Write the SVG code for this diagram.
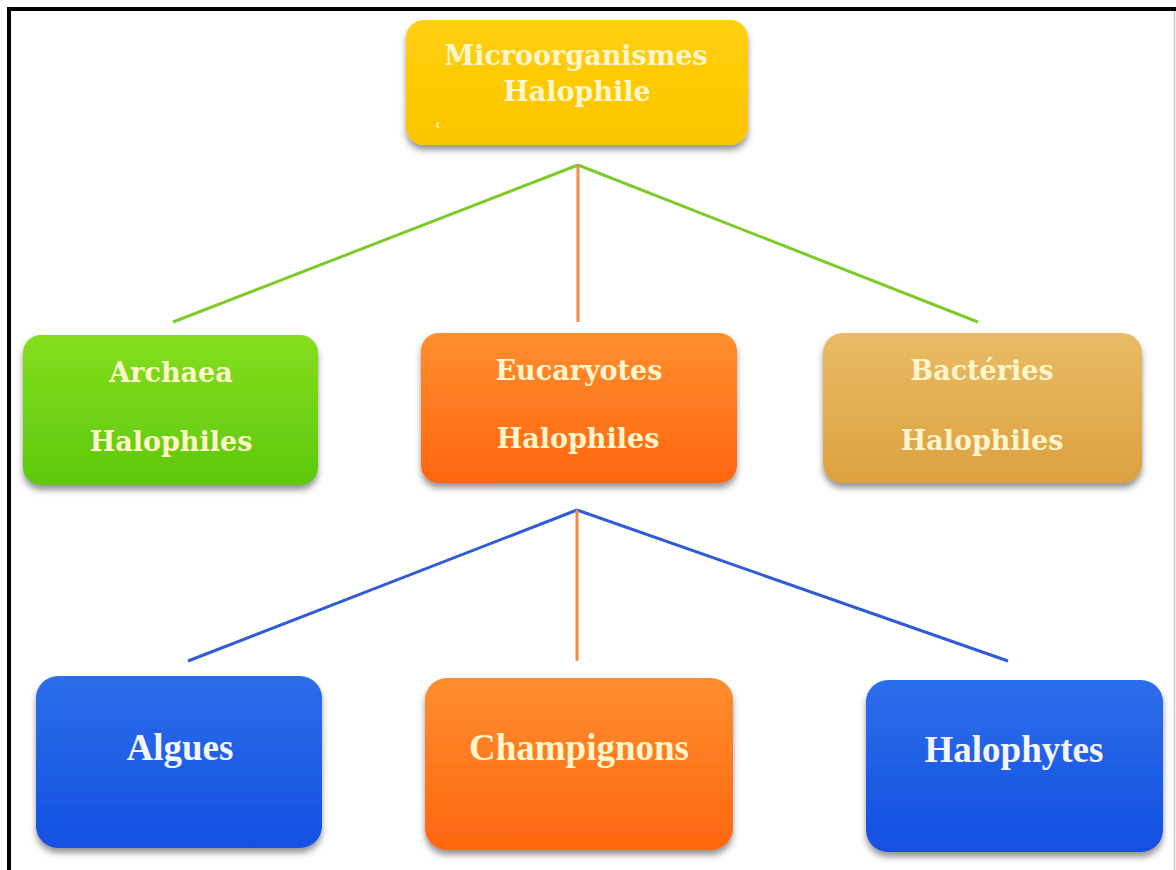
<svg xmlns="http://www.w3.org/2000/svg" width="1176" height="870" viewBox="0 0 1176 870">
<style>
.serif{font-family:"DejaVu Serif","Liberation Serif",serif;font-weight:bold;font-size:27px;fill:#FFF6CC;text-anchor:middle}
.times{font-family:"Liberation Serif","Times New Roman",serif;font-weight:bold;font-size:37px;text-anchor:middle}
.cream{fill:#FFF6CC}
.white{fill:#F4F6FF}
.node{filter:url(#sh)}
</style>
<defs>
<filter id="sh" x="-10%" y="-10%" width="120%" height="130%">
<feDropShadow dx="0" dy="5" stdDeviation="3" flood-color="#404040" flood-opacity="0.55"/>
</filter>
<linearGradient id="gy" x1="0" y1="0" x2="0" y2="1"><stop offset="0" stop-color="#FFCF0A"/><stop offset="1" stop-color="#FCC500"/></linearGradient>
<linearGradient id="gg" x1="0" y1="0" x2="0" y2="1"><stop offset="0" stop-color="#84DE1E"/><stop offset="1" stop-color="#5EC80C"/></linearGradient>
<linearGradient id="go" x1="0" y1="0" x2="0" y2="1"><stop offset="0" stop-color="#FF8E30"/><stop offset="1" stop-color="#FF660F"/></linearGradient>
<linearGradient id="gt" x1="0" y1="0" x2="0" y2="1"><stop offset="0" stop-color="#E9BB66"/><stop offset="1" stop-color="#DCA140"/></linearGradient>
<linearGradient id="gb" x1="0" y1="0" x2="0" y2="1"><stop offset="0" stop-color="#2C6EEA"/><stop offset="1" stop-color="#1350E2"/></linearGradient>
</defs>
<rect width="1176" height="870" fill="#FFFFFF"/>
<g id="frame">
<line x1="7" y1="9" x2="1176" y2="9" stroke="#000" stroke-width="4"/>
<line x1="9" y1="7" x2="9" y2="870" stroke="#000" stroke-width="4"/>
<line x1="1174.5" y1="11" x2="1174.5" y2="870" stroke="#C8C8C8" stroke-width="1.5"/>
</g>
<g id="connectors" stroke-width="3" fill="none">
<line x1="578" y1="165" x2="173" y2="322" stroke="#7DCB2A"/>
<line x1="578" y1="165" x2="978" y2="322" stroke="#7DCB2A"/>
<line x1="578" y1="165" x2="578" y2="322" stroke="#F58A3C"/>
<line x1="577" y1="510" x2="188" y2="661" stroke="#2F5BD6"/>
<line x1="577" y1="510" x2="1008" y2="661" stroke="#2F5BD6"/>
<line x1="577" y1="510" x2="577" y2="661" stroke="#F58A3C"/>
</g>
<g id="n-micro">
<rect class="node" x="406" y="20" width="342" height="125" rx="18" fill="url(#gy)"/>
<text class="serif" x="576" y="65">Microorganismes</text>
<text class="serif" x="577" y="101">Halophile</text>
<text x="434" y="138" font-family="DejaVu Serif,serif" font-weight="bold" font-size="20" fill="#FFF6CC">ʿ</text>
</g>
<g id="n-archaea">
<rect class="node" x="23" y="335" width="295" height="150" rx="18" fill="url(#gg)"/>
<text class="serif" x="171" y="382">Archaea</text>
<text class="serif" x="171" y="451">Halophiles</text>
</g>
<g id="n-eucaryotes">
<rect class="node" x="421" y="333" width="316" height="150" rx="18" fill="url(#go)"/>
<text class="serif" x="579" y="380">Eucaryotes</text>
<text class="serif" x="578" y="448">Halophiles</text>
</g>
<g id="n-bacteries">
<rect class="node" x="823" y="333" width="319" height="150" rx="20" fill="url(#gt)"/>
<text class="serif" x="982" y="380">Bactéries</text>
<text class="serif" x="982" y="450">Halophiles</text>
</g>
<g id="n-algues">
<rect class="node" x="36" y="676" width="286" height="172" rx="22" fill="url(#gb)"/>
<text class="times white" x="180" y="760">Algues</text>
</g>
<g id="n-champignons">
<rect class="node" x="425" y="678" width="308" height="172" rx="22" fill="url(#go)"/>
<text class="times cream" x="579" y="760">Champignons</text>
</g>
<g id="n-halophytes">
<rect class="node" x="866" y="680" width="297" height="172" rx="22" fill="url(#gb)"/>
<text class="times white" x="1014" y="762">Halophytes</text>
</g>
</svg>
